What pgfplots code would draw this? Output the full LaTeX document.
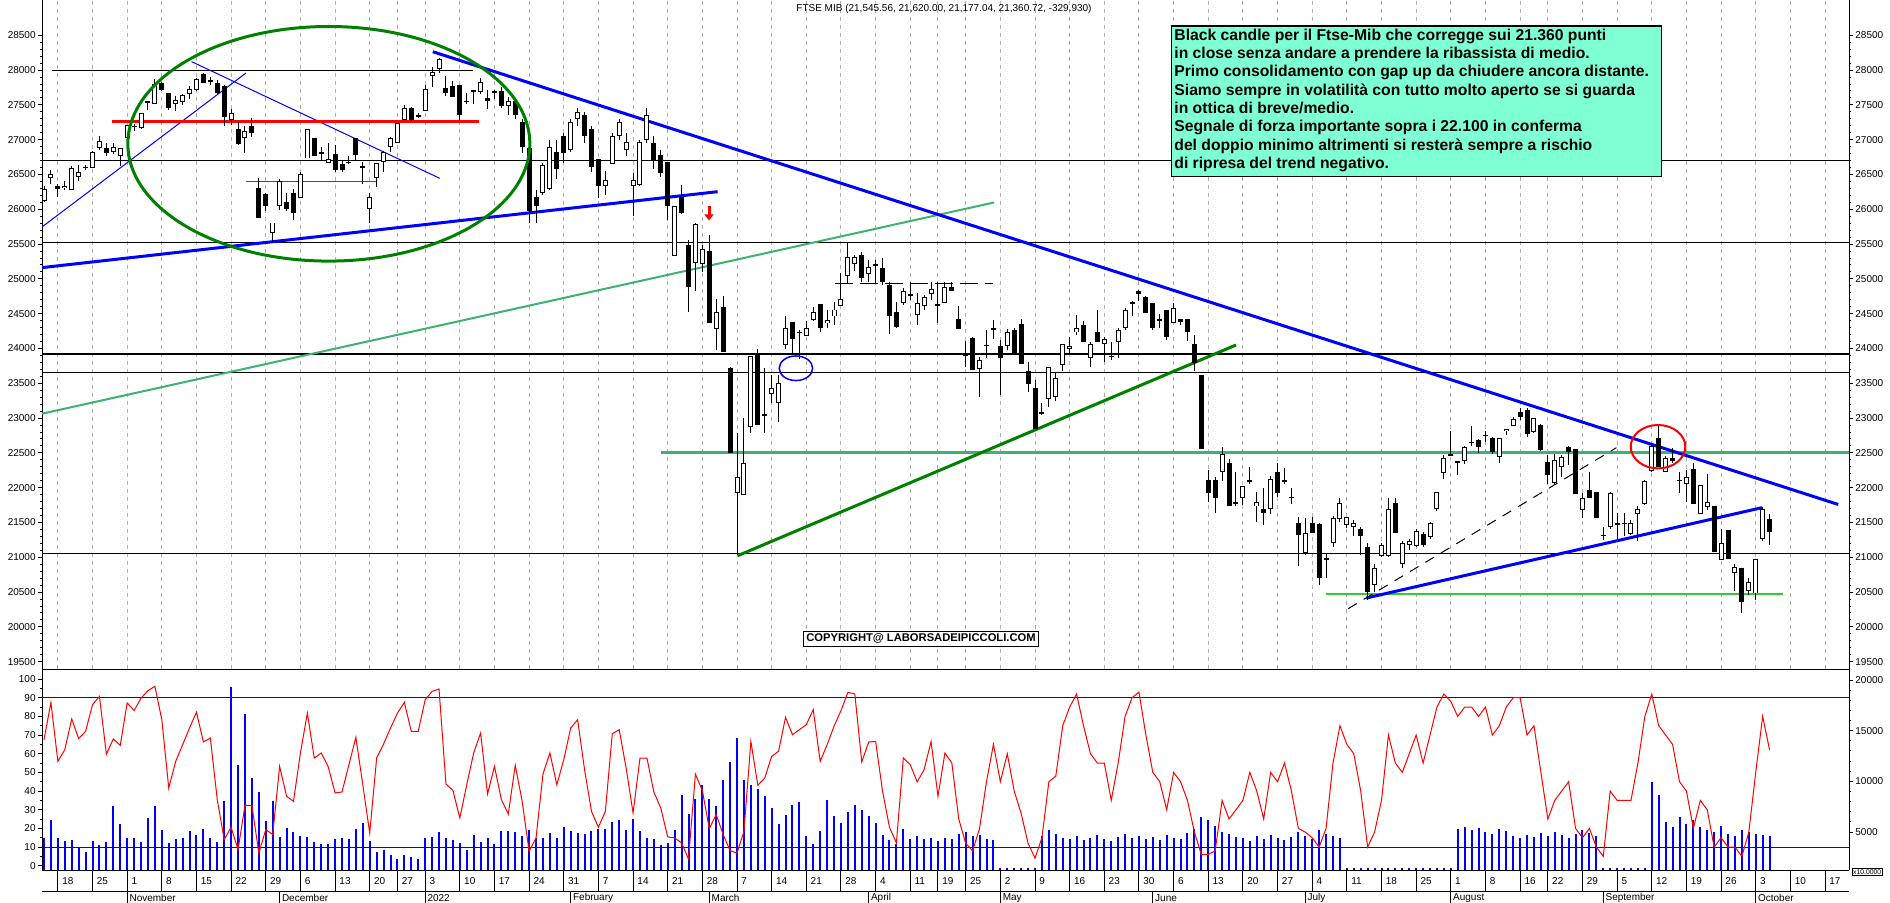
\documentclass[border=0pt]{standalone}
\usepackage{pgfplots}
\pgfplotsset{compat=1.18}
\usepackage{pgfplotstable}
\usepackage{fontspec}
\setmainfont{Liberation Sans}
\usetikzlibrary{arrows.meta}
\definecolor{dkgreen}{RGB}{0,128,0}
\definecolor{mdgreen}{RGB}{60,179,113}
\definecolor{lmgreen}{RGB}{50,205,50}
\definecolor{aqua}{RGB}{127,255,212}
\definecolor{gridgray}{RGB}{175,175,175}

\pgfplotstableread{
k O H L C
0 26120 26330 26100 26290
1 26450 26570 26360 26500
2 26340 26370 26170 26290
3 26300 26400 26280 26340
4 26280 26620 26280 26600
5 26460 26640 26410 26530
6 26600 26640 26570 26610
7 26600 26840 26590 26820
8 26880 27050 26850 26980
9 26880 26950 26770 26810
10 26830 26950 26800 26890
11 26760 26880 26620 26880
12 27020 27210 27000 27210
13 27190 27230 27120 27190
14 27170 27380 27160 27380
15 27530 27560 27430 27550
16 27520 27870 27520 27800
17 27810 27830 27700 27710
18 27670 27670 27430 27450
19 27520 27630 27410 27570
20 27540 27650 27500 27640
21 27650 27770 27590 27730
22 27710 27890 27700 27870
23 27940 27960 27810 27810
24 27840 27900 27790 27850
25 27810 27860 27640 27670
26 27770 27790 27190 27330
27 27280 27440 27210 27380
28 27160 27250 26920 26940
29 27020 27190 26810 27130
30 27200 27310 27040 27100
31 26300 26450 25870 25870
32 26220 26230 25980 26050
33 25660 25810 25530 25810
34 26050 26430 25990 26400
35 26100 26230 25970 26010
36 26230 26290 25840 25950
37 26160 26540 26160 26510
38 26730 27160 26730 27150
39 27030 27030 26760 26760
40 26790 26900 26710 26820
41 26660 26950 26660 26720
42 26790 26930 26530 26560
43 26650 26710 26530 26570
44 26670 26770 26650 26680
45 27030 27030 26710 26780
46 26600 26680 26370 26620
47 26010 26240 25800 26180
48 26450 26660 26320 26660
49 26680 26840 26540 26820
50 26890 27040 26830 27020
51 26950 27240 26950 27240
52 27280 27500 27280 27450
53 27460 27470 27270 27280
54 27340 27380 27310 27350
55 27410 27790 27410 27730
56 27920 28040 27760 27970
57 28010 28170 27960 28160
58 27740 27920 27630 27670
59 27770 27850 27620 27620
60 27790 27790 27280 27360
61 27550 27670 27510 27550
62 27700 27720 27510 27710
63 27690 27890 27650 27830
64 27600 27720 27440 27550
65 27690 27710 27580 27690
66 27700 27760 27450 27480
67 27480 27620 27350 27560
68 27550 27600 27300 27350
69 27250 27300 26810 26900
70 26880 26950 25810 25980
71 26180 26280 25800 26050
72 26230 26660 26210 26640
73 26290 27000 26280 26890
74 26830 27000 26430 26580
75 27050 27100 26660 26810
76 26850 27300 26820 27250
77 27300 27450 27200 27400
78 27350 27400 26950 27050
79 27150 27200 26530 26610
80 26720 26720 26160 26340
81 26340 26550 26210 26420
82 26650 27100 26650 27050
83 27050 27300 27000 27250
84 26850 27100 26760 26970
85 26340 26520 25900 26420
86 26350 27000 26330 26970
87 27000 27450 26950 27350
88 26950 27050 26580 26690
89 26780 26850 26470 26520
90 26680 26680 25850 26050
91 25330 26050 25330 26050
92 26170 26350 25930 25950
93 25490 25560 24530 24890
94 25230 25810 24820 25790
95 25220 25490 25100 25430
96 25400 25630 24370 24370
97 24280 24710 23980 24530
98 24590 24760 23950 23950
99 23720 23740 22500 22500
100 21930 22780 21040 22160
101 21900 23000 21900 22350
102 22870 23890 22780 23890
103 23930 23990 22900 22900
104 23050 23720 22780 23050
105 23350 23620 23210 23430
106 23220 23620 22950 23500
107 24050 24460 24000 24290
108 24380 24380 23930 24130
109 24230 24270 23850 24230
110 24180 24390 24180 24300
111 24410 24600 24390 24530
112 24640 24640 24240 24300
113 24360 24550 24290 24410
114 24460 24670 24340 24560
115 24610 25090 24610 24710
116 25040 25510 24940 25310
117 25220 25340 25120 25310
118 25340 25380 24950 25020
119 25070 25270 24960 25170
120 25210 25270 24940 25190
121 25150 25300 24910 24960
122 24910 24960 24210 24460
123 24520 24670 24290 24310
124 24660 24870 24630 24820
125 24770 24960 24700 24770
126 24480 24800 24340 24660
127 24610 24770 24560 24740
128 24790 24960 24690 24860
129 24610 24950 24370 24640
130 24660 24950 24660 24880
131 24880 24950 24820 24820
132 24430 24610 24280 24280
133 23900 24110 23740 23900
134 24150 24160 23690 23690
135 23700 23880 23310 23830
136 24050 24270 23860 24050
137 24300 24410 24140 24260
138 24030 24120 23330 23870
139 24040 24280 23980 24240
140 24270 24290 23910 23910
141 24350 24430 23780 23780
142 23680 23810 23380 23490
143 23430 23550 22850 22850
144 23080 23210 23050 23080
145 23280 23730 23160 23730
146 23310 23650 23240 23570
147 23770 24060 23680 24060
148 23990 24160 23930 24040
149 24230 24480 24190 24300
150 24340 24400 24100 24100
151 23870 24100 23730 24070
152 24230 24550 24100 24100
153 24060 24170 23800 24130
154 23890 24100 23830 23890
155 24090 24290 23860 24270
156 24290 24580 24270 24550
157 24660 24680 24460 24660
158 24790 24840 24680 24820
159 24740 24760 24510 24510
160 24650 24650 24270 24300
161 24400 24500 24300 24430
162 24560 24560 24120 24170
163 24360 24650 24360 24580
164 24430 24430 24340 24380
165 24420 24420 24110 24240
166 24070 24190 23670 23790
167 23620 23620 22550 22550
168 22110 22260 21800 21920
169 22110 22160 21630 21850
170 22220 22590 22100 22480
171 22350 22410 21730 21730
172 21760 22220 21740 21790
173 21850 22020 21750 22020
174 22100 22300 22060 22100
175 21730 21940 21510 21790
176 21690 21990 21460 21630
177 21700 22170 21620 22120
178 22220 22360 21870 21930
179 22080 22290 22050 22110
180 21860 21990 21770 21860
181 21500 21580 20880 21320
182 21060 21560 21030 21350
183 21500 21580 21350 21350
184 21480 21500 20600 20700
185 20990 21050 20700 20960
186 21200 21590 21150 21560
187 21550 21850 21510 21780
188 21470 21580 21420 21580
189 21430 21540 21300 21490
190 21400 21440 21030 21300
191 21150 21200 20380 20500
192 20600 20900 20500 20850
193 21020 21200 21000 21180
194 21020 21850 21010 21700
195 21780 21850 21355 21355
196 20900 21230 20850 21200
197 21180 21260 21100 21230
198 21160 21400 21150 21380
199 21340 21370 21150 21170
200 21290 21510 21270 21490
201 21700 21940 21660 21940
202 22210 22470 22130 22420
203 22480 22810 22450 22450
204 22370 22390 22180 22380
205 22390 22600 22340 22580
206 22650 22890 22600 22650
207 22680 22700 22500 22590
208 22750 22810 22660 22750
209 22720 22730 22480 22520
210 22440 22710 22360 22710
211 22810 22850 22760 22850
212 22890 23010 22880 22980
213 23090 23150 22970 23010
214 23110 23140 22730 22770
215 22800 23000 22780 23000
216 22900 22910 22530 22540
217 22370 22470 22060 22180
218 22070 22480 22050 22400
219 22300 22470 22150 22440
220 22580 22600 22330 22520
221 22550 22560 21910 21910
222 21680 21920 21560 21850
223 21960 22230 21850 21850
224 21940 21940 21570 21570
225 21320 21440 21250 21320
226 21430 21940 21400 21930
227 21460 21630 21270 21490
228 21490 21630 21300 21490
229 21340 21540 21320 21490
230 21620 21730 21230 21690
231 21770 22110 21750 22090
232 22240 22610 22230 22600
233 22710 22900 22300 22300
234 22230 22450 22220 22420
235 22430 22570 22350 22380
236 22110 22220 21920 22110
237 22050 22260 21790 22150
238 22270 22360 21770 21770
239 21620 22040 21620 22040
240 21720 22200 21680 21800
241 21740 21740 21070 21070
242 20960 21400 20960 21210
243 21390 21390 20970 20970
244 20770 20910 20510 20860
245 20840 20840 20200 20360
246 20510 20700 20460 20650
247 20480 20970 20380 20970
248 21270 21720 21230 21690
249 21546 21620 21177 21361
}\candles

\pgfplotstableread{
k V S
0 4406 67.5
1 6215 87.5
2 4406 55.9
3 4143 62.2
4 4242 78.6
5 3419 68.1
6 2991 72.0
7 4143 86.3
8 3682 90.7
9 4011 59.8
10 7532 67.9
11 5788 64.5
12 4406 87.2
13 4406 83.1
14 4011 89.8
15 6380 93.8
16 7532 96.1
17 5196 78.2
18 3945 41.6
19 4307 55.9
20 4400 64.8
21 5064 73.8
22 4669 82.3
23 5294 66.3
24 4406 68.4
25 4011 35.4
26 8025 14.0
27 19310 20.6
28 11578 8.6
29 16645 32.4
30 10328 32.2
31 8946 6.8
32 6051 19.3
33 8025 16.7
34 4500 53.2
35 5393 37.2
36 4998 34.5
37 4636 60.4
38 4538 81.8
39 3978 57.7
40 3847 60.4
41 3847 53.2
42 4340 39.0
43 4406 39.5
44 4307 54.1
45 5327 68.8
46 5887 43.4
47 4143 17.5
48 3024 57.7
49 3222 65.2
50 2695 73.8
51 2366 81.8
52 2695 87.5
53 2531 72.0
54 2366 72.0
55 4406 88.9
56 4505 93.4
57 4998 94.7
58 4406 43.8
59 4176 40.4
60 3912 25.6
61 3189 43.4
62 4735 60.4
63 4011 71.1
64 4406 38.4
65 3814 53.2
66 5130 35.4
67 5130 27.7
68 4998 53.8
69 4570 34.5
70 5229 7.7
71 4406 14.9
72 4406 49.1
73 4900 60.4
74 4406 43.4
75 5492 56.8
76 5064 73.8
77 4900 78.2
78 4801 51.5
79 5130 29.1
80 5261 20.6
81 5261 29.1
82 5985 70.7
83 6150 72.9
84 5196 52.3
85 6314 28.3
86 5097 57.7
87 4406 57.7
88 4307 39.5
89 3682 30.9
90 3912 15.4
91 5163 14.9
92 8683 12.2
93 6808 3.6
94 8289 49.1
95 9604 40.2
96 8289 19.9
97 7598 27.4
98 10131 16.7
99 11874 8.1
100 14276 6.8
101 10098 18.4
102 9604 66.6
103 9275 43.1
104 8552 47.0
105 7367 58.6
106 5821 61.3
107 6709 79.5
108 7630 70.2
109 7926 72.9
110 4603 75.6
111 3847 83.6
112 5064 55.9
113 8157 64.8
114 6545 74.7
115 5854 83.1
116 6972 92.9
117 7696 92.0
118 7203 55.6
119 6611 66.3
120 5887 66.6
121 4735 39.9
122 4176 20.6
123 3814 12.2
124 5261 57.7
125 4340 54.1
126 4570 44.9
127 4307 51.5
128 4406 66.6
129 4077 37.2
130 4400 60.4
131 4300 55
132 4800 25
133 5000 12
134 4600 8
135 4700 20
136 4300 45
137 4200 65
138 1400 45
139 1400 60
140 1400 40
141 1400 28
142 1400 12
143 1400 4
144 4600 15
145 5200 45
146 4800 48
147 4400 75
148 4300 85
149 4600 92
150 4200 75
151 4400 60
152 4700 55
153 4300 55
154 4100 35
155 4500 55
156 4800 80
157 4400 90
158 4600 93
159 4300 70
160 4500 50
161 4200 45
162 4700 30
163 4400 50
164 4300 45
165 4900 35
166 5300 18
167 6500 6
168 6200 6
169 5600 8
170 5000 35
171 4800 25
172 4500 30
173 4400 35
174 4100 50
175 4600 40
176 4300 25
177 4700 50
178 4400 45
179 4200 55
180 4500 40
181 5000 20
182 4600 18
183 4300 15
184 5200 10
185 4800 20
186 4600 55
187 4400 75
188 1400 65
189 1400 60
190 1400 40
191 1400 10
192 1400 18
193 1400 35
194 1400 70
195 1400 55
196 1400 50
197 1400 60
198 1400 70
199 1400 55
200 1400 70
201 1400 85
202 1400 92
203 1400 88
204 5300 80
205 5500 85
206 5200 85
207 5400 80
208 5000 85
209 4800 70
210 5300 75
211 5100 85
212 4600 90
213 4400 90
214 4700 70
215 4500 75
216 4900 50
217 4600 25
218 5000 35
219 4700 40
220 4400 45
221 4800 20
222 5200 15
223 4900 20
224 4600 10
225 1400 5
226 1400 40
227 1400 35
228 1400 35
229 1400 35
230 1400 55
231 1400 80
232 9900 92
233 8700 75
234 6000 70
235 5500 65
236 6500 45
237 5800 40
238 6200 20
239 5500 35
240 5200 30
241 5000 10
242 5600 15
243 4800 10
244 4600 10
245 5200 5
246 5000 18
247 4800 50
248 4700 80
249 4600 62
}\lowdata

\pgfplotsset{
  base/.style={scale only axis, width=903.5pt, xmin=-0.29, xmax=260.46,
    scaled y ticks=false,
    /pgf/number format/assume math mode=true,
    /pgf/number format/1000 sep={},
    tick label style={font=\fontsize{5}{6}\selectfont, inner sep=1pt},
    axis line style={-, line width=0.5pt},
    tick style={black, line width=0.5pt},
    tick align=outside, major tick length=2pt, minor tick length=1pt,
    xtick={2,7,12,17,22,27,32,37,42,47,51,55,60,65,70,75,80,85,90,95,100,105,110,115,120,125,129,133,138,143,148,153,158,163,168,173,178,183,188,193,198,203,208,213,217,222,227,232,237,242,247,252,257},
    xticklabels={}, xtick style={draw=none},
    major grid style={gridgray, line width=0.5pt, dash pattern=on 2pt off 2pt},
  },
}

\begin{document}
\begin{tikzpicture}
\useasboundingbox (0,0) rectangle (945pt,-451.5pt);

% ---------- upper price panel ----------
\begin{axis}[base, at={(21pt,0pt)}, anchor=north west, height=334.5pt,
  ymin=19395, ymax=29007, axis x line*=bottom, axis y line*=left,
  ytick={19500,20000,...,28500}, minor y tick num=4, xmajorgrids]
\addplot[black, line width=0.5pt] coordinates {(-0.29,26700) (260.46,26700)};
\addplot[black, line width=0.5pt] coordinates {(-0.29,25520) (260.46,25520)};
\addplot[black, line width=1.1pt] coordinates {(-0.29,23920) (260.46,23920)};
\addplot[black, line width=0.5pt] coordinates {(-0.29,23660) (260.46,23660)};
\addplot[black, line width=0.5pt] coordinates {(-0.29,21060) (260.46,21060)};
\addplot[black, line width=0.5pt] coordinates {(1.1,28000) (61.9,28000)};
\addplot[mdgreen, line width=1pt] coordinates {(-0.29,23063) (137.1,26098)};
\addplot[mdgreen, line width=1.25pt] coordinates {(89.0,22503) (260.46,22503)};
\addplot[dkgreen, line width=1.5pt] coordinates {(100.1,21023) (172.0,24050)};
\addplot[lmgreen, line width=1.25pt] coordinates {(185.0,20473) (250.9,20473)};
\addplot[blue, line width=0.5pt] coordinates {(-0.29,25746) (29.15,27958)};
\addplot[blue, line width=0.5pt] coordinates {(21.3,28121) (57.1,26445)};
\addplot[blue, line width=1.5pt] coordinates {(-0.29,25162) (97.2,26253)};
\addplot[blue, line width=1.5pt] coordinates {(56.1,28264) (258.9,21759)};
\addplot[blue, line width=1.5pt] coordinates {(190.8,20415) (247.9,21713)};
\addplot[red, line width=1.5pt] coordinates {(9.8,27260) (62.8,27260)};
\addplot[red, line width=0.75pt] coordinates {(29.1,26397) (48.0,26397)};
\addplot[black, line width=0.5pt, dash pattern=on 9pt off 3.5pt] coordinates {(114.1,24937) (136.9,24937)};
\addplot[black, line width=0.5pt, dash pattern=on 5pt off 4pt] coordinates {(188.2,20262) (226.9,22575)};
% candles
\addplot[draw=none, mark=none, forget plot, error bars/.cd, y dir=both, y explicit, error mark=none,
  error bar style={draw=black, line width=0.5pt, solid}]
  table[x=k, y expr={(\thisrow{H}+\thisrow{L})/2}, y error expr={(\thisrow{H}-\thisrow{L})/2}] {\candles};
\addplot[draw=none, mark=none, forget plot, error bars/.cd, y dir=both, y explicit, error mark=none,
  error bar style={draw=black, line width=2.5pt, solid}]
  table[x=k, y expr={(\thisrow{O}+\thisrow{C})/2}, y error expr={max(abs(\thisrow{O}-\thisrow{C})/2,7)}] {\candles};
\addplot[draw=none, mark=none, forget plot, error bars/.cd, y dir=both, y explicit, error mark=none,
  error bar style={draw=white, line width=1.5pt, solid}]
  table[x=k, y expr={\thisrow{C}-\thisrow{O}>30 ? (\thisrow{O}+\thisrow{C})/2 : nan}, y error expr={max((\thisrow{C}-\thisrow{O})/2-14,1)}] {\candles};
% shapes
\draw[dkgreen, line width=1.5pt] (axis cs:41.1,26941) ellipse [x radius=100.5pt, y radius=58.65pt];
\draw[blue, line width=0.75pt] (axis cs:108.5,23716) ellipse [x radius=8.35pt, y radius=6.15pt];
\draw[red, line width=1pt] (axis cs:232.9,22589) ellipse [x radius=13.65pt, y radius=10.85pt];
\draw[red, line width=1.5pt, -{Triangle[width=4.5pt,length=3pt]}] (axis cs:95.96,26050) -- (axis cs:95.96,25840);
\end{axis}

\begin{axis}[base, at={(21pt,0pt)}, anchor=north west, height=334.5pt,
  ymin=19395, ymax=29007, axis x line=none, axis y line*=right,
  ytick={19500,20000,...,28500}, minor y tick num=4]
\addplot[draw=none] coordinates {(0,20000)};
\end{axis}

% ---------- lower indicator panel ----------
\begin{axis}[base, at={(21pt,-334.5pt)}, anchor=north west, height=100.5pt,
  ymin=1250, ymax=21086, axis x line=none, axis y line*=right,
  ytick={5000,10000,15000,20000}, minor y tick num=4, xmajorgrids]
\addplot[ycomb, blue, line width=1pt, mark=none] table[x=k, y=V] {\lowdata};
\end{axis}

\begin{axis}[base, at={(21pt,-334.5pt)}, anchor=north west, height=100.5pt,
  ymin=-2.3, ymax=105.4, axis x line*=bottom, axis y line*=left,
  ytick={0,10,...,100}, minor y tick num=1]
\addplot[blue, line width=0.5pt] coordinates {(-0.29,90) (260.46,90)};
\addplot[blue, line width=0.5pt] coordinates {(-0.29,10) (260.46,10)};
\addplot[red, line width=0.5pt] table[x=k, y=S] {\lowdata};
\end{axis}

% ---------- date rows ----------
\draw[line width=0.5pt] (21pt,-445.85pt) -- (924.5pt,-445.85pt);
\foreach \k/\d in {2/18,7/25,12/1,17/8,22/15,27/22,32/29,37/6,42/13,47/20,51/27,55/3,60/10,65/17,70/24,75/31,80/7,85/14,90/21,95/28,100/7,105/14,110/21,115/28,120/4,125/11,129/19,133/25,138/2,143/9,148/16,153/23,158/30,163/6,168/13,173/20,178/27,183/4,188/11,193/18,198/25,203/1,208/8,213/16,217/22,222/29,227/5,232/12,237/19,242/26,247/3,252/10,257/17}{
  \draw[line width=0.5pt] ({22pt+3.465pt*\k},-435pt) -- ++(0,-10.85pt);
  \node[anchor=west, inner sep=0pt, font=\fontsize{5}{6}\selectfont] at ({24pt+3.465pt*\k},-440.6pt) {\d};
}
\foreach \k/\m in {12/November,34/December,55/2022,76/February,96/March,119/April,138/May,160/June,182/July,203/August,225/September,247/October}{
  \draw[line width=0.5pt] ({22pt+3.465pt*\k},-445.85pt) -- ++(0,-5.65pt);
  \node[anchor=west, inner sep=0pt, font=\fontsize{5}{6}\selectfont] at ({23pt+3.465pt*\k},-448.9pt) {\m};
}
\node[draw, line width=0.4pt, inner sep=0.6pt, anchor=north west, font=\fontsize{3.4}{4}\selectfont] at (925.8pt,-434pt) {x10.0000};

% ---------- texts ----------
\node[font=\fontsize{5}{6}\selectfont] at (472pt,-4.4pt) {FTSE MIB (21,545.56, 21,620.00, 21,177.04, 21,360.72, -329.930)};
\draw[line width=0.6pt, fill=aqua] (585.85pt,-13pt) rectangle (830.85pt,-88.35pt);
\node[anchor=north west, align=left, inner sep=0pt, font=\bfseries\fontsize{7.85}{9.17}\selectfont] at (587pt,-14.2pt) {%
Black candle per il Ftse-Mib che corregge sui 21.360 punti\\
in close senza andare a prendere la ribassista di medio.\\
Primo consolidamento con gap up da chiudere ancora distante.\\
Siamo sempre in volatilità con tutto molto aperto se si guarda\\
in ottica di breve/medio.\\
Segnale di forza importante sopra i 22.100 in conferma\\
del doppio minimo altrimenti si resterà sempre a rischio\\
di ripresa del trend negativo.};
\node[draw, fill=white, line width=0.5pt, inner sep=1.2pt, font=\bfseries\fontsize{5.6}{6}\selectfont] at (460.5pt,-319.4pt) {COPYRIGHT@ LABORSADEIPICCOLI.COM};
\end{tikzpicture}
\end{document}
